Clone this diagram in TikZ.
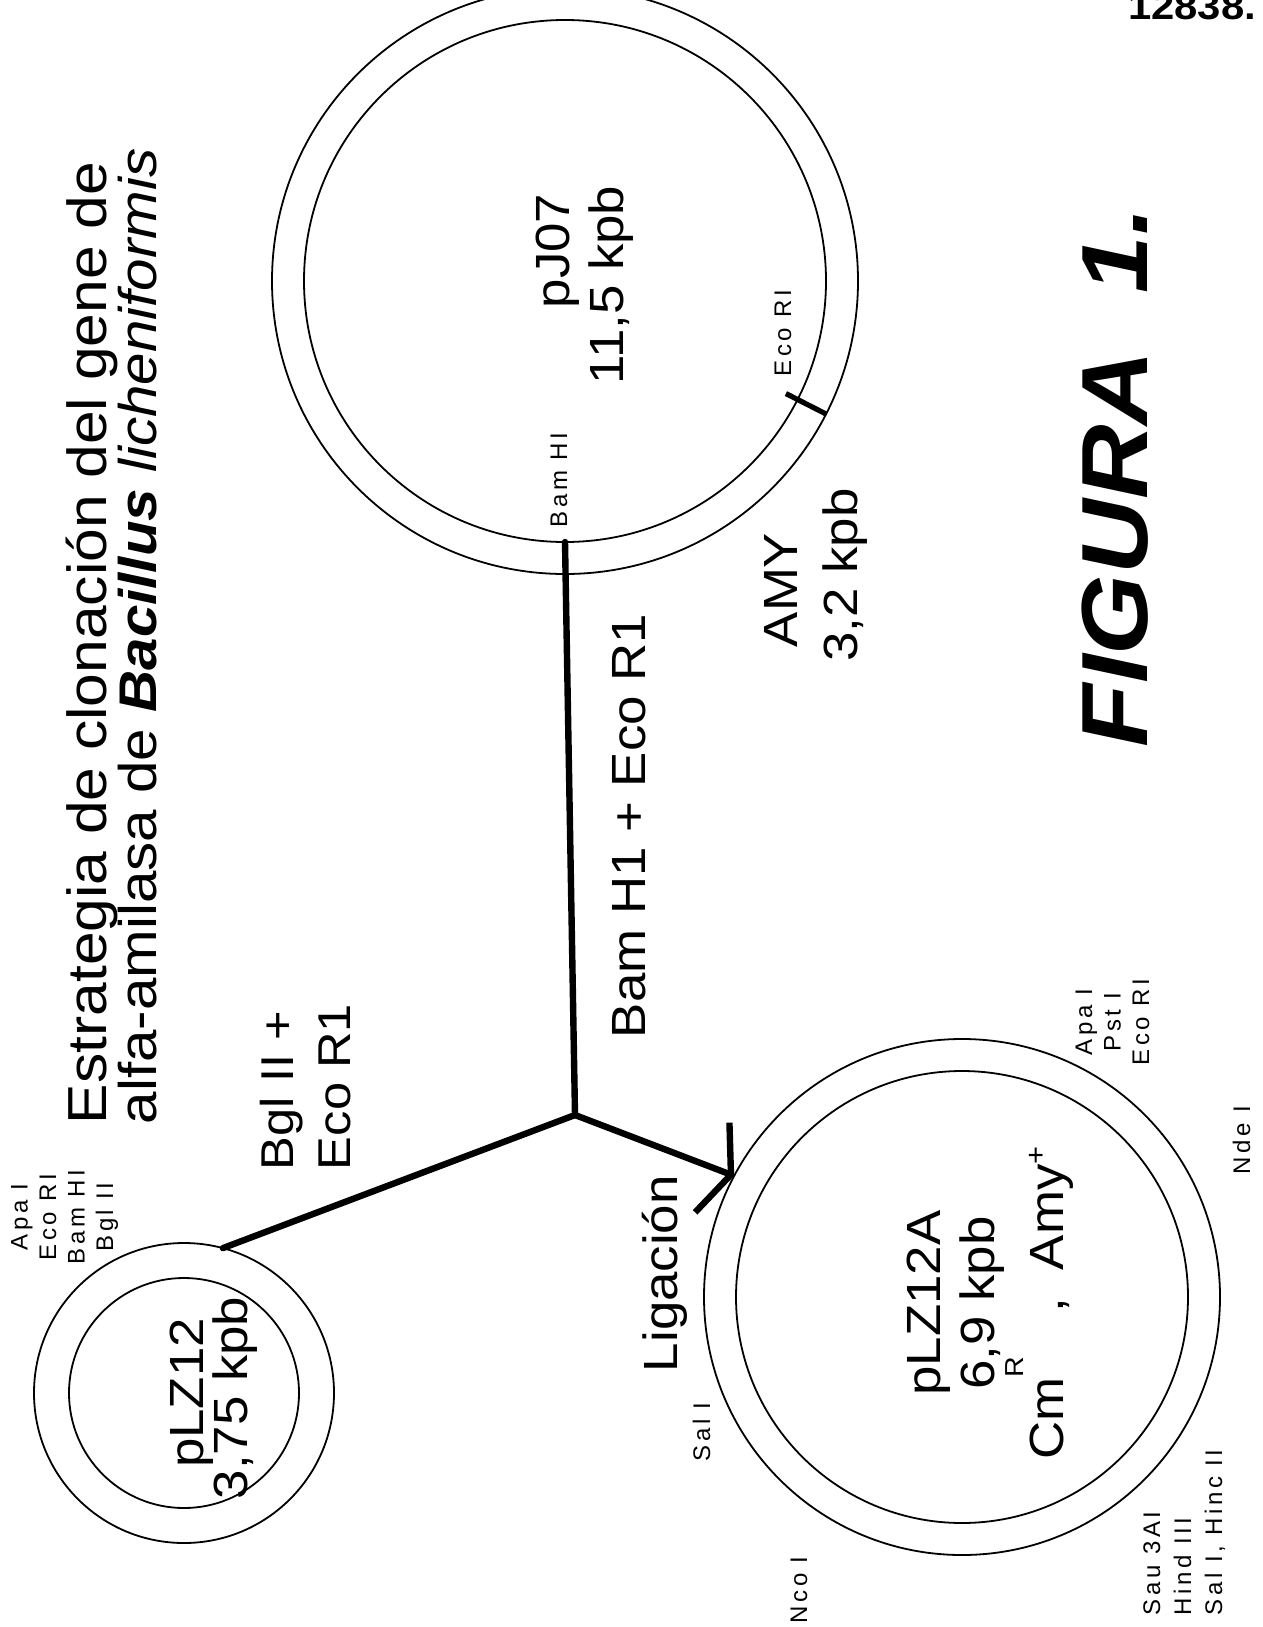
\documentclass[tikz,border=0pt]{standalone}
\usepackage{fontspec}
\setmainfont[FakeStretch=1.1]{Liberation Sans}
\newfontfamily\sitefamily[LetterSpace=15]{Liberation Sans}
\usetikzlibrary{arrows.meta, calc}

\begin{document}
\begin{tikzpicture}[
        x=0.5pt, y=-0.5pt,
        every node/.style={inner sep=0pt, outer sep=0pt},
        ring/.style={draw, circle, line width=0.9pt},
        link/.style={line width=3.2pt},
        cut/.style={line width=2.6pt},
        sitelbl/.style={font=\sitefamily\fontsize{12}{14}\selectfont, rotate=90},
        biglbl/.style={font=\fontsize{24}{28}\selectfont, rotate=90},
        >={Straight Barb[length=10pt, width=48pt]}
    ]
\useasboundingbox (0,0) rectangle (1263,1627);

% ---------- title ----------
\node[rotate=90, anchor=base west, font=\fontsize{27.5}{34}\selectfont] (title1) at (106,1124) {Estrategia de clonación del gene de};
\node[rotate=90, anchor=base west, font=\fontsize{26.5}{34}\selectfont] (title2) at (156,1124) {alfa-amilasa de \textbf{\textit{Bacillus}} \textit{licheniformis}};
\node[anchor=base east, font=\bfseries\fontsize{19}{22}\selectfont] (pagenum) at (1256,20) {12838.};

% ---------- plasmids ----------
\coordinate (cJ07) at (565,281);
\node[ring, minimum size=293pt] (pj07out) at (cJ07) {};
\node[ring, minimum size=261pt] (pj07in) at (cJ07) {};
\coordinate (cLZ12) at (184,1393);
\node[ring, minimum size=150pt] (plz12out) at (cLZ12) {};
\node[ring, minimum size=115pt] (plz12in) at (cLZ12) {};
\coordinate (cLZ12A) at (962,1297);
\node[ring, minimum size=258pt] (plz12aout) at (cLZ12A) {};
\node[ring, minimum size=226pt] (plz12ain) at (cLZ12A) {};

% Eco RI cut on pJ07
\draw[cut] ($(cJ07)!0.95!(pj07in.-27)$) -- (pj07out.-27);

% ---------- digestion / ligation ----------
\coordinate (fork) at (575,1115);
\draw[link, line cap=round] (fork) -- (pj07in.south);
\draw[link, line cap=round] (fork) -- (plz12out.75);
\draw[link, ->] (fork) -- (plz12aout.152);

% ---------- plasmid names ----------
\node[biglbl, anchor=base] (nJ07) at (569,251) {pJ07};
\node[biglbl, anchor=base] (sJ07) at (623,285) {11,5 kpb};
\node[biglbl, anchor=base] (nLZ12) at (203,1393) {pLZ12};
\node[biglbl, anchor=base] (sLZ12) at (247,1398) {3,75 kpb};
\node[biglbl, anchor=base] (nLZ12A) at (940,1303) {pLZ12A};
\node[biglbl, anchor=base] (sLZ12A) at (994,1303) {6,9 kpb};
\node[biglbl, anchor=base] (mLZ12A) at (1063,1303) {Cm\raisebox{20pt}{\fontsize{13}{13}\selectfont R}\hspace{22pt},\hspace{14pt}Amy\raisebox{9pt}{\fontsize{14}{14}\selectfont +}};

% ---------- step labels ----------
\node[biglbl, anchor=base west, font=\fontsize{23}{28}\selectfont] (bgl1) at (293,1170) {Bgl II +};
\node[biglbl, anchor=base west, font=\fontsize{23}{28}\selectfont] (bgl2) at (350,1170) {Eco R1};
\node[biglbl, anchor=base west] (bamlbl) at (645,1038) {Bam H1 + Eco R1};
\node[biglbl, anchor=base west] (liglbl) at (677,1372) {Ligación};
\node[biglbl, anchor=base] (amy) at (797,590) {AMY};
\node[biglbl, anchor=base] (amysz) at (857,575) {3,2 kpb};

% ---------- restriction sites ----------
\foreach \site [count=\i] in {Apa I, Eco RI, Bam HI, Bgl II}
    \node[sitelbl, anchor=base] (s12-\i) at ({-1+28.5*\i}, 1217) {\site};
\foreach \site [count=\i] in {Apa I, Pst I, Eco RI}
    \node[sitelbl, anchor=base] (s12a-\i) at ({1063.5+28.5*\i}, 1022) {\site};
\foreach \site [count=\i] in {Sau 3AI, Hind III, {Sal I, Hinc II}}
    \node[sitelbl, anchor=base west] (s12b-\i) at ({1129+31*\i}, 1615) {\site};
\node[sitelbl, anchor=base] (nde) at (1250,1140) {Nde I};
\node[sitelbl, anchor=base] (nco) at (807,1590) {Nco I};
\node[sitelbl, anchor=base] (sal) at (710,1432) {Sal I};
\node[sitelbl, anchor=base] (bamJ07) at (567,480) {Bam HI};
\node[sitelbl, anchor=base] (ecoJ07) at (791,333) {Eco RI};

% ---------- caption ----------
\node[rotate=90, anchor=base west, font=\bfseries\itshape\fontsize{47}{56}\selectfont] (fig) at (1147,747) {FIGURA\ \ 1.};

\end{tikzpicture}
\end{document}
